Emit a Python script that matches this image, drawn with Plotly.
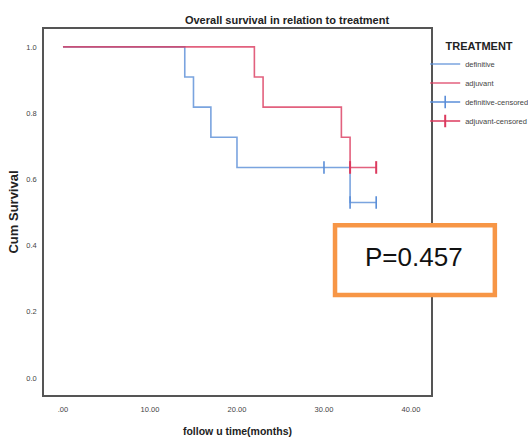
import plotly.graph_objects as go

# ---- data ----
def_time = [0, 14, 15, 17, 20, 33, 36]
def_surv = [1.0, 0.909, 0.818, 0.727, 0.636, 0.530, 0.530]
adj_time = [0, 22, 23, 32, 33, 36]
adj_surv = [1.0, 0.909, 0.818, 0.727, 0.636, 0.636]
def_cens_time = [30, 33, 36]
def_cens_surv = [0.636, 0.530, 0.530]
adj_cens_time = [33, 36]
adj_cens_surv = [0.636, 0.636]

x_tickvals = [0, 10, 20, 30, 40]
x_ticktext = [".00", "10.00", "20.00", "30.00", "40.00"]
y_tickvals = [0, 0.2, 0.4, 0.6, 0.8, 1.0]
y_ticktext = ["0.0", "0.2", "0.4", "0.6", "0.8", "1.0"]

p_text = "P=0.457"

BLUE = "#5A8ED8"
RED = "#DC3A5E"


def gapped(xs, ys):
    gx, gy = [], []
    for a, b in zip(xs, ys):
        gx += [a, None]
        gy += [b, None]
    return gx[:-1], gy[:-1]


fig = go.Figure()
fig.add_trace(go.Scatter(x=def_time, y=def_surv, mode="lines", line_shape="hv",
                         line=dict(color=BLUE, width=1.6), opacity=0.8, name="definitive"))
fig.add_trace(go.Scatter(x=adj_time, y=adj_surv, mode="lines", line_shape="hv",
                         line=dict(color=RED, width=1.6), opacity=0.8, name="adjuvant"))
cx, cy = gapped(def_cens_time, def_cens_surv)
fig.add_trace(go.Scatter(x=cx, y=cy, mode="lines+markers", connectgaps=False,
                         line=dict(color=BLUE, width=1.5),
                         marker=dict(symbol="line-ns", size=9, line=dict(color=BLUE, width=1.6)),
                         name="definitive-censored"))
cx, cy = gapped(adj_cens_time, adj_cens_surv)
fig.add_trace(go.Scatter(x=cx, y=cy, mode="lines+markers", connectgaps=False,
                         line=dict(color=RED, width=1.5),
                         marker=dict(symbol="line-ns", size=9, line=dict(color=RED, width=2)),
                         name="adjuvant-censored"))

# P-value box
fig.add_shape(type="rect", xref="paper", yref="paper",
              x0=0.752, x1=1.165, y0=0.273, y1=0.464,
              line=dict(color="#F79646", width=4.5), fillcolor="white", layer="above")
fig.add_annotation(text=p_text, xref="paper", yref="paper", x=0.956, y=0.376,
                   xanchor="center", yanchor="middle",
                   showarrow=False, font=dict(size=26, color="#111", family="Liberation Sans, Arial"))

fig.update_layout(
    width=528, height=437,
    margin=dict(l=44, r=97, t=29, b=42, autoexpand=False),
    paper_bgcolor="white", plot_bgcolor="white",
    font=dict(family="Liberation Sans, Arial", color="#333"),
    title=dict(text="<b>Overall survival in relation to treatment</b>", x=0.628, xref="paper",
               xanchor="center", y=0.953, yanchor="middle",
               font=dict(size=11, color="#222", family="Liberation Sans Narrow, Liberation Sans, Arial")),
    showlegend=True,
    legend=dict(x=0.985, xanchor="left", y=0.983, yanchor="top",
                title=dict(text="<b>TREATMENT</b>", side="top center",
                           font=dict(size=11, color="#222")),
                font=dict(size=7.5, color="#444"), itemwidth=30, tracegroupgap=0,
                bgcolor="rgba(0,0,0,0)"),
    xaxis=dict(range=[-2.18, 42.3], tickvals=x_tickvals, ticktext=x_ticktext,
               showgrid=False, zeroline=False, showline=True, mirror=True,
               linecolor="#555", linewidth=1.5, ticks="", ticklabelstandoff=6,
               tickfont=dict(size=7.5, color="#444"),
               title=dict(text="<b>follow u time(months)</b>", standoff=15,
                          font=dict(size=10.5, color="#222"))),
    yaxis=dict(range=[-0.051, 1.054], tickvals=y_tickvals, ticktext=y_ticktext,
               showgrid=False, zeroline=False, showline=True, mirror=True,
               linecolor="#555", linewidth=1.5, ticks="", ticklabelstandoff=4,
               tickfont=dict(size=7.5, color="#444"),
               title=dict(text="<b>Cum Survival</b>", standoff=5,
                          font=dict(size=13, color="#222"))),
)

fig.write_html("out.html")
